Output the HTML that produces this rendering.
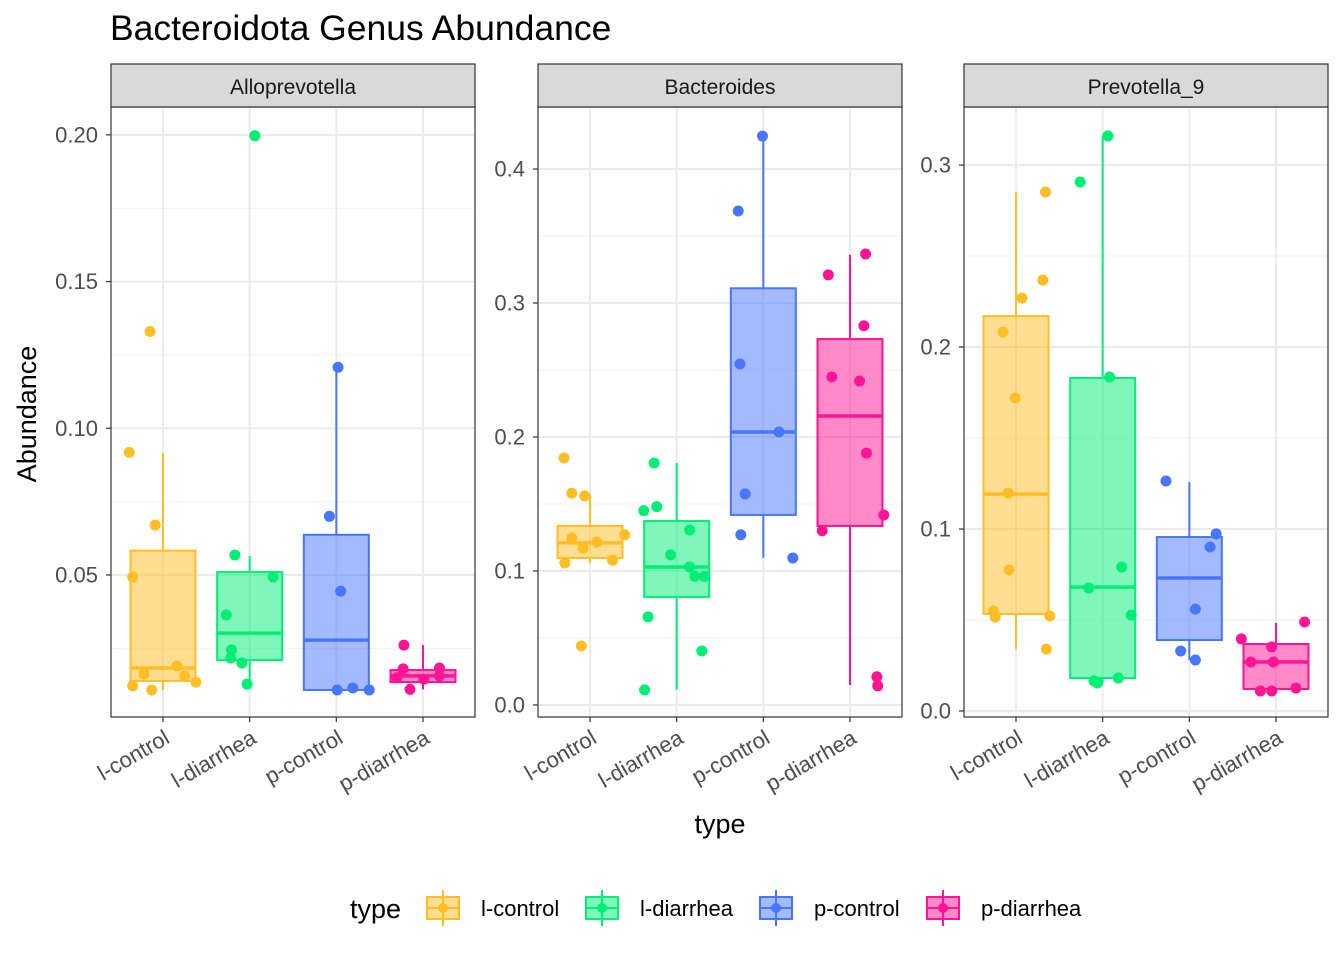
<!DOCTYPE html>
<html><head><meta charset="utf-8"><style>
body{margin:0;background:#fff;}
svg{display:block;font-family:"Liberation Sans",sans-serif;}
</style></head><body>
<svg id="chart" width="1344" height="960"></svg>
<script>
const categories=["l-control","l-diarrhea","p-control","p-diarrhea"];
const colors=["#FFBE25","#00EE76","#4876FF","#FF1493"];
const panelTitles=["Alloprevotella","Bacteroides","Prevotella_9"];
const panelTicks=[[0.05,0.10,0.15,0.20],[0.0,0.1,0.2,0.3,0.4],[0.0,0.1,0.2,0.3]];
const panelTickLabels=[["0.05","0.10","0.15","0.20"],["0.0","0.1","0.2","0.3","0.4"],["0.0","0.1","0.2","0.3"]];
const panelDomains=[[0.0016,0.2095],[-0.009,0.4463],[-0.0033,0.3319]];
// box stats per panel: [lo, q1, median, q3, hi] per category
const boxStats=[
 [[0.0108,0.0139,0.0183,0.0583,0.0916],[0.0128,0.021,0.0302,0.051,0.0565],[0.0108,0.0108,0.0278,0.0637,0.1208],[0.011,0.0135,0.0156,0.0176,0.0261]],
 [[0.106,0.1097,0.121,0.1336,0.157],[0.0112,0.0806,0.103,0.1373,0.1806],[0.1097,0.1418,0.2037,0.311,0.4246],[0.0149,0.1336,0.2157,0.2731,0.336]],
 [[0.034,0.0533,0.1192,0.217,0.285],[0.0154,0.0181,0.0681,0.183,0.316],[0.028,0.039,0.0731,0.0956,0.1258],[0.011,0.0121,0.0269,0.0368,0.0484]]
];
// point values per panel per category
const pointValues=[
 [[0.0918,0.0493,0.133,0.067,0.0163,0.019,0.0156,0.0135,0.0122,0.0108],[0.0568,0.0364,0.0245,0.0217,0.02,0.0493,0.0128,0.1997],[0.07,0.0445,0.1208,0.0108,0.0115,0.0108],[0.0261,0.018,0.015,0.011,0.0183,0.0156,0.0145]],
 [[0.1843,0.158,0.156,0.1246,0.117,0.1216,0.127,0.106,0.108,0.044],[0.1806,0.145,0.148,0.1306,0.112,0.103,0.096,0.096,0.0657,0.0403,0.0112],[0.4246,0.3687,0.2545,0.2037,0.1575,0.127,0.1097],[0.321,0.3366,0.283,0.2448,0.2418,0.188,0.1418,0.13,0.021,0.0142]],
 [[0.2852,0.2368,0.2269,0.2082,0.172,0.1198,0.0775,0.055,0.0516,0.0522,0.034],[0.316,0.2907,0.1835,0.0791,0.0676,0.0527,0.0165,0.0154,0.0181],[0.1264,0.0973,0.0901,0.056,0.033,0.028],[0.0489,0.0396,0.0352,0.0269,0.0269,0.011,0.011,0.0126]]
];
// jitter in category-width units
const pointJitter=[
 [[-0.39,-0.35,-0.15,-0.09,-0.22,0.16,0.25,0.38,-0.35,-0.13],[-0.17,-0.27,-0.21,-0.22,-0.09,0.27,-0.03,0.06],[-0.08,0.05,0.02,0.01,0.19,0.38],[-0.22,-0.23,-0.3,-0.15,0.19,0.19,0.01]],
 [[-0.3,-0.21,-0.06,-0.21,-0.08,0.08,0.4,-0.29,0.26,-0.1],[-0.26,-0.38,-0.23,0.15,-0.07,0.15,0.21,0.32,-0.33,0.29,-0.37],[-0.01,-0.29,-0.27,0.18,-0.21,-0.26,0.34],[-0.25,0.18,0.16,-0.21,0.11,0.19,0.39,-0.32,0.31,0.32]],
 [[0.34,0.31,0.07,-0.15,-0.01,-0.09,-0.08,-0.26,-0.24,0.39,0.35],[0.06,-0.26,0.08,0.22,-0.16,0.33,-0.1,-0.06,0.18],[-0.27,0.31,0.24,0.07,-0.1,0.07],[0.33,-0.4,-0.05,-0.29,-0.03,-0.18,-0.05,0.23]]
];
const svg=document.getElementById('chart');
const NS='http://www.w3.org/2000/svg';
function mk(tag,attrs,parent,text){const e=document.createElementNS(NS,tag);for(const k in attrs)e.setAttribute(k,attrs[k]);if(text!==undefined)e.textContent=text;(parent||svg).appendChild(e);return e;}
const panelX=[111,538,964], PW=364, PT=107, PB=717;
const t=mk('text',{x:110,y:40,'font-size':'35.5','fill':'#000'},svg,'Bacteroidota Genus Abundance');

panelX.forEach((x0,p)=>{
 const g=mk('g',{});
 
 
 const [d0,d1]=panelDomains[p];
 const y=v=>PB-(v-d0)/(d1-d0)*(PB-PT);
 const step=PW/4.2;
 const xc=i=>x0+step*(i+0.6);
 mk('rect',{x:x0,y:PT,width:PW,height:PB-PT,fill:'#fff'},g);
 const ticks=panelTicks[p];const tstep=ticks[1]-ticks[0];
 for(let v=ticks[0]-tstep/2;v<=d1;v+=tstep){if(v>=d0)mk('line',{x1:x0,x2:x0+PW,y1:y(v),y2:y(v),stroke:'#F2F2F2','stroke-width':1},g);}
 ticks.forEach((v,k)=>{
  mk('line',{x1:x0,x2:x0+PW,y1:y(v),y2:y(v),stroke:'#EBEBEB','stroke-width':2},g);
  mk('line',{x1:x0-5,x2:x0,y1:y(v),y2:y(v),stroke:'#333','stroke-width':1.2},g);
  const tl=mk('text',{x:x0-13,y:y(v)+7.5,'text-anchor':'end','font-size':'22','fill':'#4D4D4D'},g,panelTickLabels[p][k]);
  
 });
 categories.forEach((c,i)=>{
  mk('line',{x1:xc(i),x2:xc(i),y1:PT,y2:PB,stroke:'#EBEBEB','stroke-width':2},g);
 });
 categories.forEach((c,i)=>{
  const [lo,q1,md,q3,hi]=boxStats[p][i];const col=colors[i];const bw=step*0.75;
  const w1=mk('line',{x1:xc(i),x2:xc(i),y1:y(hi),y2:y(q3),stroke:col,'stroke-width':2},g);
  
  mk('line',{x1:xc(i),x2:xc(i),y1:y(q1),y2:y(lo),stroke:col,'stroke-width':2},g);
  const b=mk('rect',{x:xc(i)-bw/2,y:y(q3),width:bw,height:Math.max(1,y(q1)-y(q3)),fill:col,'fill-opacity':0.5,stroke:col,'stroke-width':2},g);
  
  mk('line',{x1:xc(i)-bw/2,x2:xc(i)+bw/2,y1:y(md),y2:y(md),stroke:col,'stroke-width':3.5},g);
 });
 categories.forEach((c,i)=>{
  pointValues[p][i].forEach((v,k)=>{
   const pt=mk('circle',{cx:xc(i)+pointJitter[p][i][k]*step,cy:y(v),r:5.5,fill:colors[i]},g);
   
  });
  mk('line',{x1:xc(i),x2:xc(i),y1:PB,y2:PB+5,stroke:'#333','stroke-width':1.2},g);
  const xl=mk('text',{transform:`translate(${xc(i)+8},${PB+25}) rotate(-30)`,'text-anchor':'end','font-size':'22','fill':'#4D4D4D'},g,c);
  
 });
 mk('rect',{x:x0,y:PT,width:PW,height:PB-PT,fill:'none',stroke:'#333','stroke-width':1.2},g);
 const s=mk('rect',{x:x0,y:64,width:PW,height:43,fill:'#D9D9D9',stroke:'#333','stroke-width':1.2},g);
 
 const st=mk('text',{x:x0+PW/2,y:94,'text-anchor':'middle','font-size':'21','fill':'#1A1A1A'},g,panelTitles[p]);
 
});
const yt=mk('text',{transform:'translate(36,414) rotate(-90)','text-anchor':'middle','font-size':'27'},svg,'Abundance');

const xt=mk('text',{x:720,y:833,'text-anchor':'middle','font-size':'27'},svg,'type');

const lg=mk('g',{});

mk('text',{x:350,y:918,'font-size':'27'},lg,'type');
const lx=[425,584,758,925];
categories.forEach((c,i)=>{
 const e=mk('g',{},lg);
 
 const x=lx[i],col=colors[i];
 mk('line',{x1:x+18,x2:x+18,y1:890,y2:926,stroke:col,'stroke-width':2},e);
 mk('rect',{x:x+2,y:897,width:32,height:22,fill:col,'fill-opacity':0.5,stroke:col,'stroke-width':2},e);
 mk('line',{x1:x+2,x2:x+34,y1:908,y2:908,stroke:col,'stroke-width':2},e);
 mk('circle',{cx:x+18,cy:908,r:5,fill:col},e);
 mk('text',{x:x+56,y:916,'font-size':'22'},e,c);
});
</script>
</body></html>
